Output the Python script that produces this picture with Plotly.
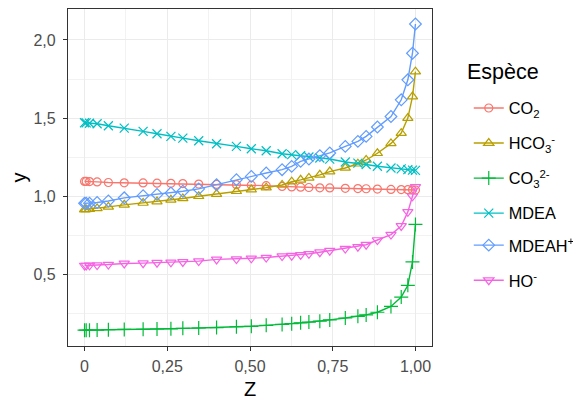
import plotly.graph_objects as go

Z = [0, 0.005, 0.015, 0.038, 0.072, 0.12, 0.177, 0.219, 0.261, 0.297, 0.345, 0.399,
     0.459, 0.504, 0.549, 0.597, 0.626, 0.653, 0.678, 0.711, 0.741, 0.788, 0.826,
     0.851, 0.885, 0.926, 0.957, 0.977, 0.991, 1.0]

CO2 = [1.095, 1.095, 1.094, 1.092, 1.088, 1.086, 1.085, 1.084, 1.083, 1.081, 1.078, 1.076,
       1.074, 1.071, 1.068, 1.063, 1.060, 1.058, 1.056, 1.054, 1.053, 1.051, 1.049,
       1.048, 1.046, 1.044, 1.043, 1.042, 1.041, 1.040]
HCO3 = [0.915, 0.916, 0.918, 0.922, 0.932, 0.945, 0.957, 0.966, 0.977, 0.986, 1.000, 1.014,
        1.032, 1.043, 1.055, 1.072, 1.093, 1.105, 1.117, 1.137, 1.158, 1.181, 1.208,
        1.232, 1.275, 1.338, 1.404, 1.500, 1.638, 1.797]
CO3 = [0.143, 0.143, 0.143, 0.144, 0.146, 0.148, 0.149, 0.150, 0.152, 0.155, 0.157, 0.160,
       0.165, 0.168, 0.174, 0.180, 0.185, 0.190, 0.195, 0.201, 0.209, 0.221, 0.232,
       0.241, 0.258, 0.295, 0.355, 0.430, 0.580, 0.820]
MDEA = [1.470, 1.469, 1.467, 1.464, 1.451, 1.436, 1.415, 1.400, 1.383, 1.372, 1.355, 1.336,
        1.319, 1.304, 1.291, 1.272, 1.266, 1.259, 1.251, 1.245, 1.238, 1.219, 1.212,
        1.203, 1.192, 1.181, 1.175, 1.170, 1.167, 1.166]
MDEAH = [0.955, 0.955, 0.956, 0.960, 0.970, 0.990, 1.004, 1.012, 1.021, 1.032, 1.047, 1.074,
         1.106, 1.127, 1.149, 1.170, 1.191, 1.223, 1.238, 1.260, 1.277, 1.319, 1.351,
         1.383, 1.443, 1.510, 1.617, 1.745, 1.915, 2.102]
HO = [0.557, 0.557, 0.558, 0.560, 0.563, 0.570, 0.572, 0.575, 0.577, 0.580, 0.585, 0.596,
      0.598, 0.603, 0.608, 0.617, 0.620, 0.625, 0.632, 0.642, 0.652, 0.665, 0.677,
      0.690, 0.720, 0.755, 0.810, 0.900, 1.000, 1.060]

names = ["CO<sub>2</sub>", "HCO<sub>3</sub><sup>-</sup>", "CO<sub>3</sub><sup>2-</sup>",
         "MDEA", "MDEAH<sup>+</sup>", "HO<sup>-</sup>"]
series = [CO2, HCO3, CO3, MDEA, MDEAH, HO]
colors = ["#F8766D", "#B79F00", "#00BA38", "#00BFC4", "#619CFF", "#F564E3"]
symbols = ["circle-open", "triangle-up-open", "cross-thin-open", "x-thin-open",
           "diamond-open", "triangle-down-open"]
sizes = [8, 9, 10, 9, 9, 9]

xtick_vals = [0, 0.25, 0.5, 0.75, 1.0]
xtick_text = ["0", "0,25", "0,50", "0,75", "1,00"]
ytick_vals = [0.5, 1.0, 1.5, 2.0]
ytick_text = ["0,5", "1,0", "1,5", "2,0"]

# legend item tops (paper y), one legend per species for even spacing
legend_tops = [0.757, 0.653, 0.549, 0.445, 0.350, 0.246]

fig = go.Figure()
for i, (nm, ys) in enumerate(zip(names, series)):
    leg = "legend" if i == 0 else "legend%d" % (i + 1)
    fig.add_trace(go.Scatter(
        x=Z, y=ys, name=nm, mode="lines+markers", legend=leg, showlegend=True,
        line=dict(color=colors[i], width=1.4),
        marker=dict(symbol=symbols[i], size=sizes[i], color=colors[i],
                    line=dict(color=colors[i], width=1.2)),
    ))

axis_common = dict(
    showline=True, linecolor="#333333", linewidth=1.2, mirror=True,
    ticks="outside", ticklen=4, tickcolor="#333333", tickwidth=1,
    gridcolor="#EBEBEB", gridwidth=1.3, zeroline=False, automargin=False,
    tickfont=dict(family="Liberation Sans, Arial", size=16, color="#4D4D4D"),
    title_font=dict(family="Liberation Sans, Arial", size=20, color="#000000"),
)

fig.update_xaxes(range=[-0.05, 1.05], tickvals=xtick_vals, ticktext=xtick_text,
                 title_text="Z", title_standoff=7, ticklabelstandoff=2,
                 minor=dict(tick0=0, dtick=0.125, showgrid=True, gridcolor="#F2F2F2",
                            gridwidth=0.8, ticks=""),
                 **axis_common)
fig.update_yaxes(range=[0.042, 2.198], tickvals=ytick_vals, ticktext=ytick_text,
                 title_text="y", title_standoff=2, ticklabelstandoff=4,
                 minor=dict(tick0=0, dtick=0.25, showgrid=True, gridcolor="#F2F2F2",
                            gridwidth=0.8, ticks=""),
                 **axis_common)

layout_legends = {}
for i, top in enumerate(legend_tops):
    key = "legend" if i == 0 else "legend%d" % (i + 1)
    layout_legends[key] = dict(
        font=dict(family="Liberation Sans, Arial", size=16.3, color="#000000"),
        x=1.101, xanchor="left", y=top, yanchor="top",
        itemwidth=30, bgcolor="rgba(0,0,0,0)", visible=True,
    )

fig.update_layout(
    width=573, height=393,
    margin=dict(l=60, r=147, t=1, b=55),
    showlegend=True,
    plot_bgcolor="white", paper_bgcolor="white",
    font=dict(family="Liberation Sans, Arial", color="#000000"),
    annotations=[dict(
        text="Espèce", xref="paper", yref="paper", x=1.090, y=0.813,
        xanchor="left", yanchor="middle", showarrow=False,
        font=dict(family="Liberation Sans, Arial", size=21.5, color="#000000"),
    )],
    **layout_legends,
)

fig.write_html("out.html")
